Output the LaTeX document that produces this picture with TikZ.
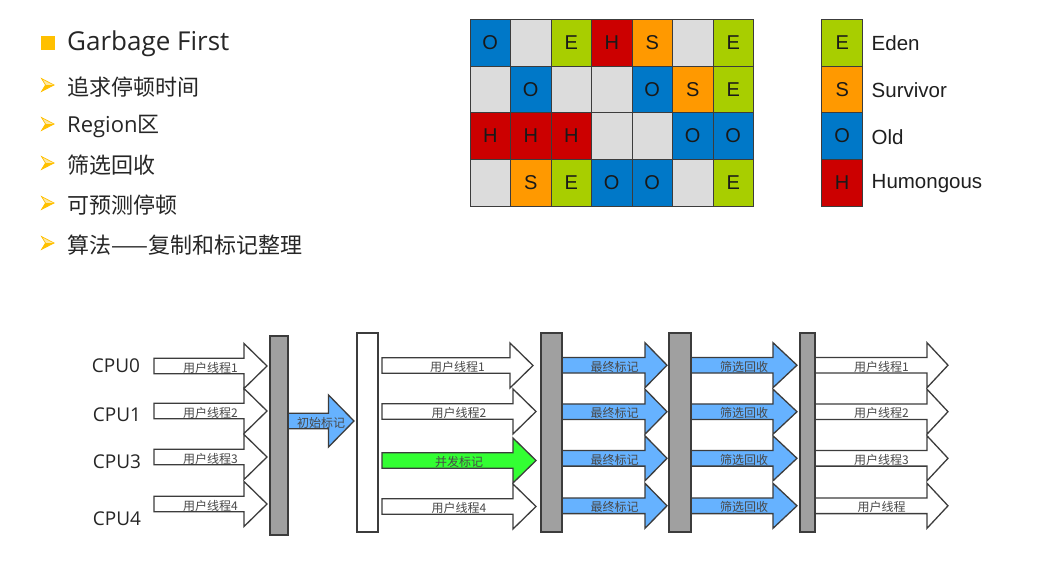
\documentclass[tikz,border=0pt]{standalone}
\usepackage{fontspec}
\setmainfont{Open Sans}
\newfontfamily\cjk{Noto Sans CJK SC}
\newfontfamily\arialf{Liberation Sans}
\definecolor{cE}{RGB}{168,206,0}
\definecolor{cS}{RGB}{255,153,0}
\definecolor{cO}{RGB}{0,120,200}
\definecolor{cH}{RGB}{204,0,0}
\definecolor{cN}{RGB}{220,220,220}
\definecolor{gridc}{RGB}{60,60,60}
\definecolor{bulletc}{RGB}{255,192,0}
\definecolor{bulletlight}{RGB}{255,232,160}
\definecolor{textc}{RGB}{38,38,38}
\definecolor{labelc}{RGB}{72,72,72}
\definecolor{linec}{RGB}{60,60,60}
\definecolor{bluea}{RGB}{102,178,255}
\definecolor{greena}{RGB}{51,255,51}
\definecolor{barg}{RGB}{160,160,160}
\newcommand\cellletter[1]{\if N#1\else#1\fi}
\newcommand\arrbullet[1]{%
  \fill[bulletlight] (41.5,#1-6.5) -- (54,#1) -- (45.5,#1) -- cycle;
  \fill[bulletc] (45.5,#1) -- (54,#1) -- (41.5,#1+6.5) -- cycle;
  \draw[bulletc, line width=0.7pt, line join=miter] (41.5,#1-6.5) -- (54,#1) -- (41.5,#1+6.5) -- (45.5,#1) -- cycle;}
% #1 name, #2 tail x, #3 head base x, #4 tip x, #5 centre y, #6 head half height, #7 fill, #8 label
\newcommand\fatarrow[8]{%
  \draw[fat, fill=#7] (#2,#5-7.8) -- (#3,#5-7.8) -- (#3,#5-#6) -- (#4,#5) -- (#3,#5+#6) -- (#3,#5+7.8) -- (#2,#5+7.8) -- cycle;
  \node[lbl] (#1) at ({(#2+#4)/2},#5+1.5) {#8};}
\begin{document}
\begin{tikzpicture}[x=1pt,y=-1pt,
  lbl/.style={font=\cjk\fontsize{12}{12}\selectfont, text=labelc, inner sep=0pt},
  fat/.style={draw=linec, line width=1.3pt, line join=miter},
  barbox/.style={draw=linec, line width=1.6pt},
  cell/.style={draw=gridc, line width=1pt, minimum width=40.5pt, minimum height=46.7pt, inner sep=0pt, text=black!90, font=\arialf\fontsize{20}{20}\selectfont},
  item/.style={anchor=west, text=textc, inner sep=0pt, font=\cjk\fontsize{22}{22}\selectfont},
  cpu/.style={text=textc, inner sep=0pt, font=\fontsize{19}{19}\selectfont}]
\fill[white] (0,0) rectangle (1037,562);
\useasboundingbox (0,0) rectangle (1037,562);
% ---------- bullet list ----------
\fill[bulletc] (41,36) rectangle (55,50);
\node[anchor=west, text=textc, inner sep=0pt, font=\fontsize{26}{26}\selectfont] (title) at (67,44) {Garbage First};
\arrbullet{85}
\node[item] (i1) at (67,87) {追求停顿时间};
\arrbullet{124}
\node[item] (i2) at (67,126) {\fontspec{Open Sans}Region\cjk 区};
\arrbullet{163}
\node[item] (i3) at (67,165) {筛选回收};
\arrbullet{203}
\node[item] (i4) at (67,205) {可预测停顿};
\arrbullet{243}
\node[item] (i5) at (67,245) {算法——复制和标记整理};
% ---------- region grid ----------
\foreach \row [count=\r from 0] in {{O,N,E,H,S,N,E},{N,O,N,N,O,S,E},{H,H,H,N,N,O,O},{N,S,E,O,O,N,E}} {
  \foreach \t [count=\c from 0] in \row {
    \node[cell, fill=c\t] (g\r\c) at ({490.25+40.5*\c},{42.65+46.7*\r}) {\cellletter{\t}};
  }
}
% ---------- legend ----------
\foreach \t/\nm [count=\i from 0] in {E/Eden,S/Survivor,O/Old,H/Humongous} {
  \node[cell, fill=c\t, minimum width=41pt] (lg\i) at (842.2,{42.65+46.7*\i}) {\t};
  \node[anchor=west, inner sep=0pt, text=black!88, font=\arialf\fontsize{20.5}{20.5}\selectfont] (ln\i) at (871.5,{43.5+46.7*\i}) {\nm};
}
% ---------- CPU labels ----------
\node[cpu] (cpu0) at (116,366) {CPU0};
\node[cpu] (cpu1) at (117,415) {CPU1};
\node[cpu] (cpu3) at (117,462) {CPU3};
\node[cpu] (cpu4) at (117,518.5) {CPU4};
% ---------- stage 1 ----------
\fatarrow{ua1}{154}{244}{267}{366}{22.5}{white}{用户线程1}
\fatarrow{ua2}{154}{244}{267}{411}{22.5}{white}{用户线程2}
\fatarrow{ua3}{154}{244}{267}{457}{22.5}{white}{用户线程3}
\fatarrow{ua4}{154}{244}{267}{504}{22.5}{white}{用户线程4}
% initial mark
\fatarrow{init}{288}{328.5}{354}{421}{26}{bluea}{初始标记}
% ---------- stage 2 ----------
\fatarrow{ub1}{382}{510}{533}{365.5}{22.5}{white}{用户线程1}
\fatarrow{ub2}{382}{513}{536}{411.5}{22.5}{white}{用户线程2}
\fatarrow{cm}{382}{513}{536}{460.5}{22.5}{greena}{并发标记}
\fatarrow{ub4}{382}{513}{536}{506.5}{22.5}{white}{用户线程4}
% ---------- stage 3 ----------
\fatarrow{fm1}{562}{645}{667}{365.2}{22.5}{bluea}{最终标记}
\fatarrow{fm2}{562}{645}{667}{411.7}{22.5}{bluea}{最终标记}
\fatarrow{fm3}{562}{645}{667}{458.3}{22.5}{bluea}{最终标记}
\fatarrow{fm4}{562}{645}{667}{505.8}{22.5}{bluea}{最终标记}
% ---------- stage 4 ----------
\fatarrow{sr1}{691}{773}{797}{365.2}{22.5}{bluea}{筛选回收}
\fatarrow{sr2}{691}{773}{797}{411.7}{22.5}{bluea}{筛选回收}
\fatarrow{sr3}{691}{773}{797}{458.3}{22.5}{bluea}{筛选回收}
\fatarrow{sr4}{691}{773}{797}{505.8}{22.5}{bluea}{筛选回收}
% ---------- stage 5 ----------
\fatarrow{uc1}{815}{927}{948}{365.2}{22.5}{white}{用户线程1}
\fatarrow{uc2}{815}{927}{948}{411.7}{22.5}{white}{用户线程2}
\fatarrow{uc3}{815}{927}{948}{458.3}{22.5}{white}{用户线程3}
\fatarrow{uc4}{815}{927}{948}{505.8}{22.5}{white}{用户线程}
% ---------- bars ----------
\draw[barbox, fill=barg] (270,336) rectangle (288,535);
\draw[barbox, fill=white] (357,333) rectangle (378,532);
\draw[barbox, fill=barg] (541,333) rectangle (562,532);
\draw[barbox, fill=barg] (669,333) rectangle (691,532);
\draw[barbox, fill=barg] (800,333) rectangle (815,532);
\end{tikzpicture}
\end{document}
